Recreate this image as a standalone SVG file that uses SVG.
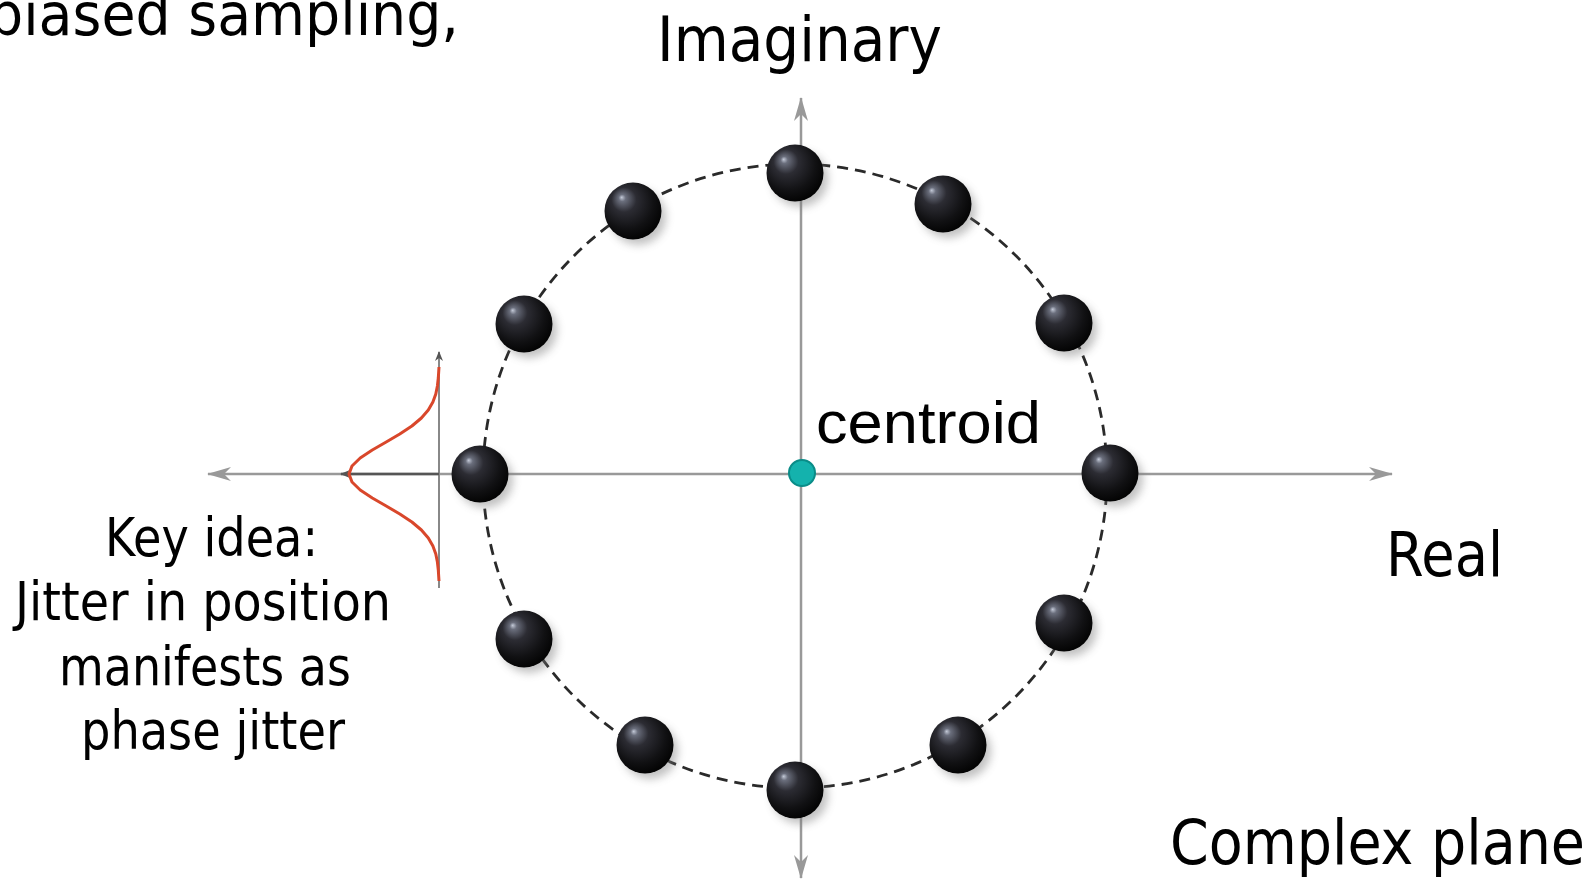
<svg xmlns="http://www.w3.org/2000/svg" xmlns:xlink="http://www.w3.org/1999/xlink" width="1592" height="879" viewBox="0 0 1592 879">
  <style>
    .lbl { font-family: "DejaVu Sans", "Liberation Sans", sans-serif; fill: #000; }
    .cen { font-family: "Liberation Sans", Arial, sans-serif; fill: #000; }
    .axis { stroke: #999; stroke-width: 2.5; fill: none; }
    .ring { stroke: #2a2a2a; stroke-width: 2.8; fill: none; stroke-dasharray: 11 7; }
  </style>
  <defs>
    <marker id="ah" viewBox="0 0 24 14" refX="23" refY="7" markerWidth="24" markerHeight="14" markerUnits="userSpaceOnUse" orient="auto-start-reverse">
      <path d="M0,0 L24,7 L0,14 L7,7 Z" fill="#999"/>
    </marker>
    <marker id="ahs" viewBox="0 0 10 8" refX="9" refY="4" markerWidth="10" markerHeight="8" markerUnits="userSpaceOnUse" orient="auto-start-reverse">
      <path d="M0,0 L10,4 L0,8 L3,4 Z" fill="#555"/>
    </marker>
    <radialGradient id="ballg" cx="0.42" cy="0.38" r="0.62" fx="0.3" fy="0.26">
      <stop offset="0" stop-color="#c4cad8"/>
      <stop offset="0.1" stop-color="#6a6e7c"/>
      <stop offset="0.35" stop-color="#2c2c33"/>
      <stop offset="0.75" stop-color="#111113"/>
      <stop offset="1" stop-color="#040404"/>
    </radialGradient>
    <filter id="blur" x="-50%" y="-50%" width="200%" height="200%">
      <feGaussianBlur stdDeviation="4"/>
    </filter>
    <g id="ball">
      <circle cx="5" cy="6" r="28" fill="#777" opacity="0.45" filter="url(#blur)"/>
      <circle cx="0" cy="0" r="28.5" fill="url(#ballg)"/>
    </g>
  </defs>
  <rect width="1592" height="879" fill="#fff"/>

  <g id="connectors">
    <line id="real-axis" class="axis" x1="1392" y1="474" x2="208" y2="474" marker-start="url(#ah)" marker-end="url(#ah)"/>
    <line id="imag-axis" class="axis" x1="801" y1="878" x2="801" y2="98" marker-start="url(#ah)" marker-end="url(#ah)"/>
    <circle id="ring" class="ring" cx="795" cy="476" r="312"/>
  </g>

  <g id="gaussian">
    <line x1="439" y1="588" x2="439" y2="352" stroke="#888" stroke-width="2" marker-end="url(#ahs)"/>
    <line x1="439" y1="474" x2="341" y2="474" stroke="#555" stroke-width="2.5" marker-end="url(#ahs)"/>
    <path d="M439,367 L438.3,378 L437.4,386 L435.8,394 L432.9,402 L428.3,410 L421.4,418 L411.9,426 L399.8,434 L386.2,442 L372.3,450 L360.2,458 L352,466 L349,474 L352,482 L360.2,490 L372.3,498 L386.2,506 L399.8,514 L411.9,522 L421.4,530 L428.3,538 L432.9,546 L435.8,554 L437.4,562 L438.3,570 L439,581" fill="none" stroke="#d9472b" stroke-width="3" stroke-linejoin="round"/>
  </g>

  <g id="ball-top" transform="translate(795,173)"><use xlink:href="#ball"/></g>
  <g id="ball-30" transform="translate(943,204)"><use xlink:href="#ball"/></g>
  <g id="ball-60" transform="translate(1064,323)"><use xlink:href="#ball"/></g>
  <g id="ball-right" transform="translate(1110,473)"><use xlink:href="#ball"/></g>
  <g id="ball-120" transform="translate(1064,623)"><use xlink:href="#ball"/></g>
  <g id="ball-150" transform="translate(958,745)"><use xlink:href="#ball"/></g>
  <g id="ball-bottom" transform="translate(795,790)"><use xlink:href="#ball"/></g>
  <g id="ball-210" transform="translate(645,745)"><use xlink:href="#ball"/></g>
  <g id="ball-240" transform="translate(524,639)"><use xlink:href="#ball"/></g>
  <g id="ball-left" transform="translate(480,474)"><use xlink:href="#ball"/></g>
  <g id="ball-300" transform="translate(524,324)"><use xlink:href="#ball"/></g>
  <g id="ball-330" transform="translate(633,211)"><use xlink:href="#ball"/></g>

  <g id="centroid">
    <circle cx="802" cy="473" r="13" fill="#14b2ad" stroke="#0a8c88" stroke-width="2"/>
    <text class="cen" x="816" y="443" font-size="60" textLength="225" lengthAdjust="spacingAndGlyphs">centroid</text>
  </g>

  <g id="label-top"><text class="lbl" x="-12" y="35" font-size="59" textLength="471" lengthAdjust="spacingAndGlyphs">biased sampling,</text></g>
  <g id="label-imaginary"><text class="lbl" x="657" y="61" font-size="62" textLength="285" lengthAdjust="spacingAndGlyphs">Imaginary</text></g>
  <g id="label-real"><text class="lbl" x="1386" y="576" font-size="62" textLength="117" lengthAdjust="spacingAndGlyphs">Real</text></g>
  <g id="label-complex"><text class="lbl" x="1170" y="864" font-size="62" textLength="415" lengthAdjust="spacingAndGlyphs">Complex plane</text></g>
  <g id="label-keyidea">
    <text class="lbl" x="105" y="556" font-size="53" textLength="213" lengthAdjust="spacingAndGlyphs">Key idea:</text>
    <text class="lbl" x="15" y="620" font-size="53" textLength="376" lengthAdjust="spacingAndGlyphs">Jitter in position</text>
    <text class="lbl" x="59" y="685" font-size="53" textLength="292" lengthAdjust="spacingAndGlyphs">manifests as</text>
    <text class="lbl" x="81" y="749" font-size="53" textLength="264" lengthAdjust="spacingAndGlyphs">phase jitter</text>
  </g>
</svg>
